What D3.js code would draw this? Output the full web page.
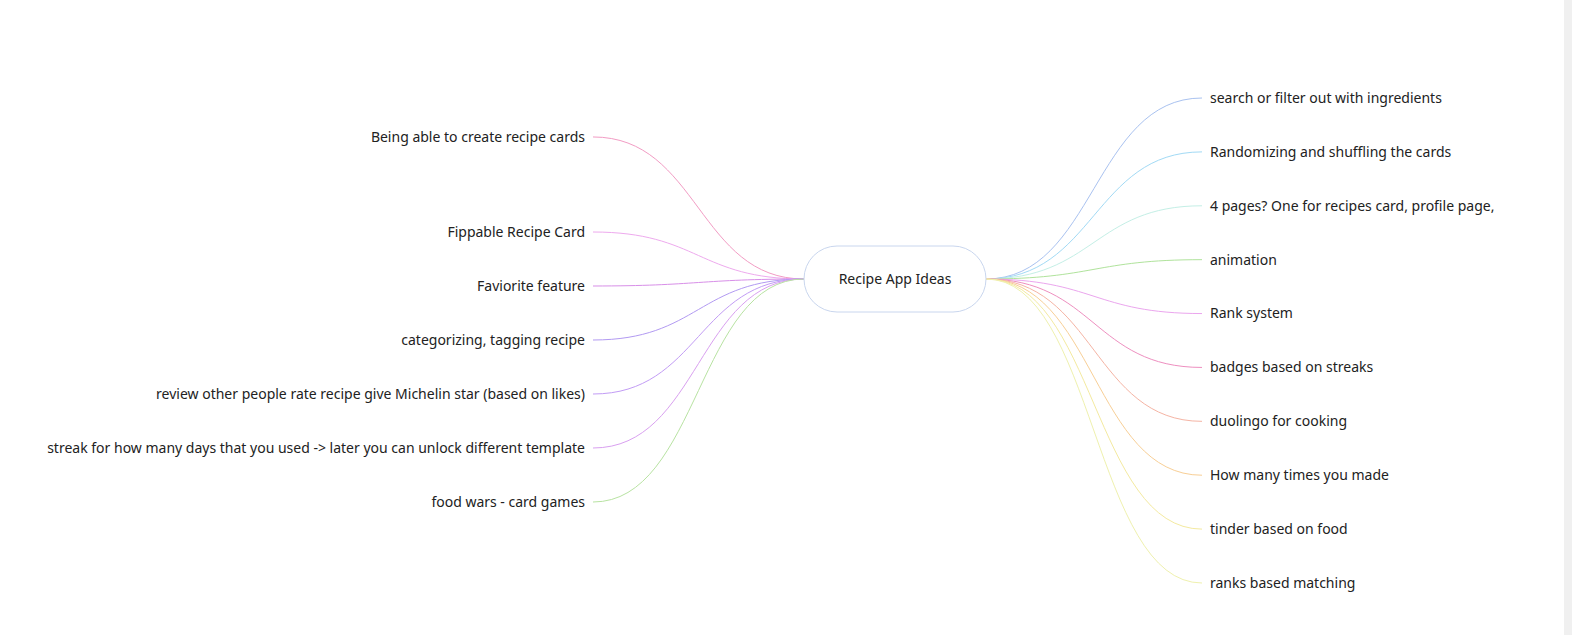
<!DOCTYPE html>
<html><head><meta charset="utf-8">
<script src="https://cdn.jsdelivr.net/npm/d3@7"></script>
<style>
html,body{margin:0;padding:0;background:#fff;overflow:hidden}
text{font-family:"Noto Sans","Open Sans",sans-serif;font-size:14px;fill:#222}
</style></head>
<body><svg id="svg" width="1572" height="635"></svg>
<script>
var rootLabel = "Recipe App Ideas";
var leftIdeas = ["Being able to create recipe cards", "Fippable Recipe Card", "Faviorite feature",
  "categorizing, tagging recipe", "review other people rate recipe give Michelin star (based on likes)",
  "streak for how many days that you used -> later you can unlock different template", "food wars - card games"];
var leftSlots = [-1.76, 0, 1, 2, 3, 4, 5];
var leftColors = ["#f29cc4", "#eeaaee", "#d88fe8", "#b29af2", "#c29cf5", "#d9a0f0", "#b8e3a2"];
var rightIdeas = ["search or filter out with ingredients", "Randomizing and shuffling the cards",
  "4 pages? One for recipes card, profile page,", "animation", "Rank system", "badges based on streaks",
  "duolingo for cooking", "How many times you made", "tinder based on food", "ranks based matching"];
var rightColors = ["#a9c2f0", "#a2daf5", "#c4efe6", "#b0e39c", "#eba6ee", "#ee8fc0", "#f5b4a4", "#f8cf96", "#f4eaa0", "#eff1ae"];

var svg = d3.select("#svg");
var cx = 895, cy = 279, rw = 182, rh = 66;

var yL = d3.scaleLinear().domain([0, 5]).range([232, 502]);
var yR = d3.scalePoint().domain(d3.range(rightIdeas.length)).range([98, 583]);
var link = d3.linkHorizontal();

var leftData = leftIdeas.map(function (t, i) { return { t: t, y: yL(leftSlots[i]), c: leftColors[i] }; });
var rightData = rightIdeas.map(function (t, i) { return { t: t, y: yR(i), c: rightColors[i] }; });

var g = svg.append("g");
g.selectAll(".ll").data(leftData).enter().append("path")
  .attr("d", function (d) { return link({ source: [cx - rw / 2, cy], target: [593, d.y] }); })
  .attr("fill", "none").attr("stroke", function (d) { return d.c; }).attr("stroke-width", 1);
g.selectAll(".rl").data(rightData).enter().append("path")
  .attr("d", function (d) { return link({ source: [cx + rw / 2, cy], target: [1202, d.y] }); })
  .attr("fill", "none").attr("stroke", function (d) { return d.c; }).attr("stroke-width", 1);

g.selectAll(".lt").data(leftData).enter().append("text")
  .attr("x", 585).attr("y", function (d) { return d.y; }).attr("dy", "0.35em")
  .attr("text-anchor", "end").text(function (d) { return d.t; });
g.selectAll(".rt").data(rightData).enter().append("text")
  .attr("x", 1210).attr("y", function (d) { return d.y; }).attr("dy", "0.35em")
  .text(function (d) { return d.t; });

g.append("rect").attr("x", cx - rw / 2).attr("y", cy - rh / 2).attr("width", rw).attr("height", rh)
  .attr("rx", rh / 2).attr("fill", "#fff").attr("stroke", "#c9d6ee");
g.append("text").attr("x", cx).attr("y", cy).attr("dy", "0.35em").attr("text-anchor", "middle").text(rootLabel);

svg.append("rect").attr("x", 1564).attr("y", 0).attr("width", 8).attr("height", 635).attr("fill", "#f0f0f0");
</script></body></html>
